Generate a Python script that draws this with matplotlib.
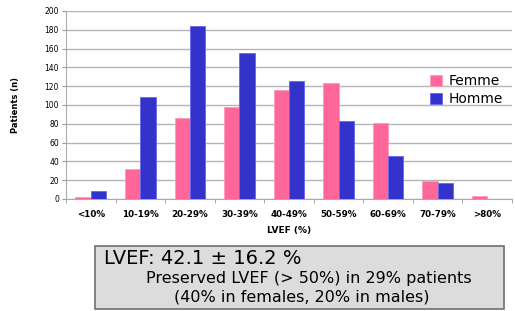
import matplotlib.pyplot as plt
from matplotlib.patches import Rectangle
import numpy as np

# === Data ===
categories = ['<10%', '10-19%', '20-29%', '30-39%', '40-49%', '50-59%', '60-69%', '70-79%', '>80%']
femme = [2, 32, 86, 98, 116, 123, 81, 19, 3]
homme = [8, 109, 184, 155, 126, 83, 46, 17, 0]
y_ticks = [0, 20, 40, 60, 80, 100, 120, 140, 160, 180, 200]

pink = '#ff6699'
blue = '#3333cc'

fig = plt.figure(figsize=(5.15, 3.11), dpi=100)
ax = fig.add_axes([66 / 515, 1 - 199 / 311, 446 / 515, 188 / 311])

x = np.arange(len(categories))
w = 0.31
ax.bar(x - w / 2, femme, width=w, color=pink, edgecolor='#ff99bb', linewidth=0.6, label='Femme', zorder=3)
ax.bar(x + w / 2, homme, width=w, color=blue, edgecolor='#6666ee', linewidth=0.6, label='Homme', zorder=3)

ax.set_xlim(-0.5, len(categories) - 0.5)
ax.set_ylim(0, 200)
ax.set_yticks(y_ticks)
ax.set_yticklabels([str(v) for v in y_ticks], fontsize=5.5)
ax.set_xticks(x)
ax.set_xticklabels(categories, fontsize=6.3, fontweight='bold')
ax.set_xticks(np.arange(-0.5, len(categories), 1), minor=True)
ax.tick_params(axis='x', which='major', length=0, pad=8)
ax.tick_params(axis='x', which='minor', length=3, color='#999999')
ax.tick_params(axis='y', length=3, color='#999999', pad=2)

ax.grid(axis='y', color='#b5b5b5', linewidth=1, zorder=0)
for s in ['top', 'right']:
    ax.spines[s].set_visible(False)
ax.spines['left'].set_color('#aaaaaa')
ax.spines['bottom'].set_color('#aaaaaa')

ax.set_ylabel('Patients (n)', fontsize=6, fontweight='bold', labelpad=18)
ax.set_xlabel('LVEF (%)', fontsize=6.5, fontweight='bold', labelpad=5)

ax.legend(loc='upper left', bbox_to_anchor=(0.787, 0.73), frameon=False, fontsize=10,
          handlelength=0.9, handleheight=0.8, handletextpad=0.5, labelspacing=0.3)

# summary box
fig.patches.append(Rectangle((95 / 515, 1 - 309 / 311), 409 / 515, 63 / 311,
                             transform=fig.transFigure, facecolor='#dcdcdc',
                             edgecolor='#6e6e6e', linewidth=1.2))
fig.text(104 / 515, 1 - 259 / 311, 'LVEF: 42.1 \u00b1 16.2 %', fontsize=14,
         va='center', ha='left')
fig.text(309 / 515, 1 - 279 / 311, 'Preserved LVEF (> 50%) in 29% patients', fontsize=11.5,
         va='center', ha='center')
fig.text(302 / 515, 1 - 297 / 311, '(40% in females, 20% in males)', fontsize=11.5,
         va='center', ha='center')

fig.savefig('out.png', dpi=100)
